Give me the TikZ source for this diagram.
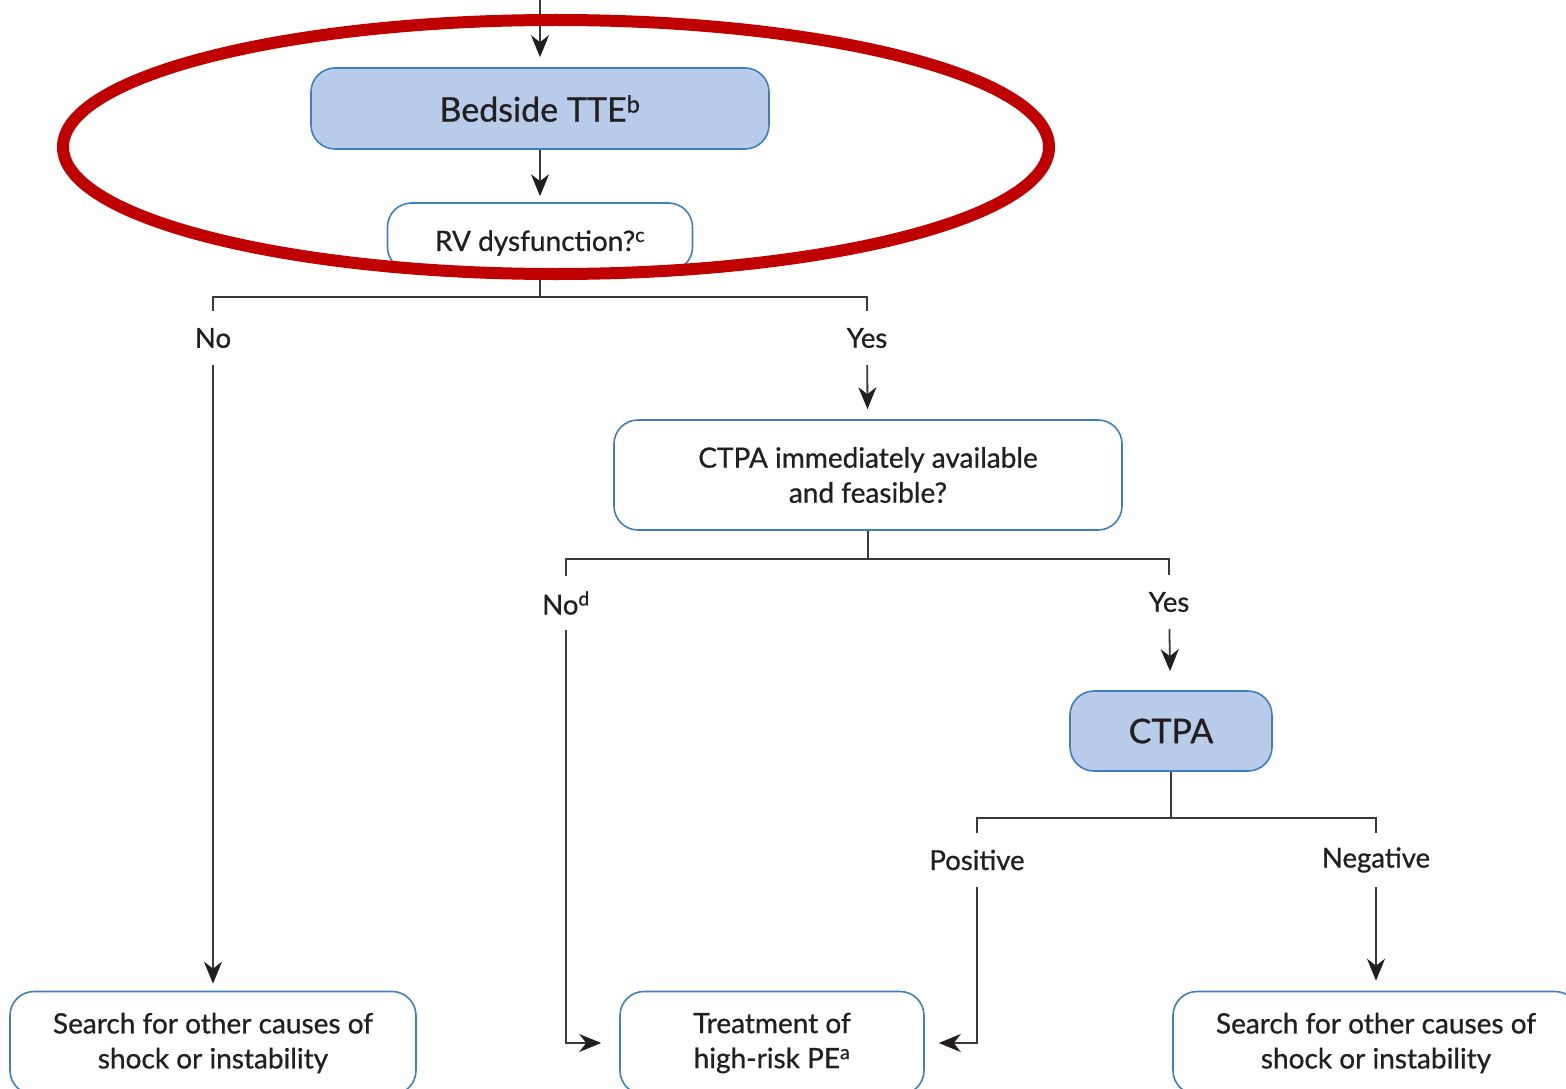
\documentclass[tikz,border=0pt]{standalone}
\usepackage{fontspec}
\setmainfont{Lato}[RawFeature={embolden=0.7}]
\usetikzlibrary{arrows.meta,calc}
\definecolor{boxblue}{HTML}{B8CCE9}
\definecolor{edgeblue}{HTML}{3F7FC1}
\definecolor{ink}{HTML}{231F20}
\definecolor{wire}{HTML}{3A3A3A}
\definecolor{ringred}{HTML}{C00000}
\newcommand\supmark[1]{\textsuperscript{#1}}
\begin{document}
\begin{tikzpicture}[x=1pt,y=-1pt,
  flow/.style={draw=edgeblue, line width=1.6pt, rounded corners=24pt, align=center,
               text=ink, inner sep=0pt},
  filled/.style={flow, fill=boxblue},
  plain/.style={flow, fill=white},
  lbl/.style={inner sep=0pt, minimum height=54pt, text=ink, font=\fontsize{27.5}{30}\selectfont},
  link/.style={draw=wire, line width=1.8pt},
  arr/.style={link, -{Stealth[length=22pt,width=18pt,inset=7pt,color=ink]}},
  txt/.style={font=\fontsize{28}{35}\selectfont}
]
\useasboundingbox (0,0) rectangle (1566,1089);
\clip (0,0) rectangle (1566,1089);
\fill[white] (0,0) rectangle (1566,1089);

% boxes
\node[filled, minimum width=458pt, minimum height=81pt, font=\fontsize{34}{40}\selectfont]
  (tte) at (540,108.5) {Bedside TTE\supmark{b}};
\node[plain, minimum width=305pt, minimum height=68pt, txt]
  (rv) at (540,237) {\raisebox{-6pt}[\height][\depth]{RV dysfunction?\supmark{c}}};
\node[plain, minimum width=508pt, minimum height=110pt, txt]
  (ctpaq) at (868,475) {CTPA immediately available\\and feasible?};
\node[filled, minimum width=202pt, minimum height=80pt, font=\fontsize{34}{40}\selectfont]
  (ctpa) at (1171,731) {CTPA};
\node[plain, minimum width=406pt, minimum height=103pt, txt]
  (search1) at (213,1043) {Search for other causes of\\shock or instability};
\node[plain, minimum width=304pt, minimum height=103pt, txt]
  (treat) at (772,1043) {Treatment of\\high-risk PE\supmark{a}};
\node[plain, minimum width=406pt, minimum height=103pt, txt]
  (search2) at (1376,1043) {Search for other causes of\\shock or instability};

% branch labels
\node[lbl] (no1) at (213,338) {No};
\node[lbl] (yes1) at (867,338) {Yes};
\node[lbl] (no2) at (566,603) {No\supmark{d}};
\node[lbl] (yes2) at (1169,602) {Yes};
\node[lbl] (pos) at (977,860) {Positive};
\node[lbl] (neg) at (1376,860) {Negative};

% connectors
\coordinate (topin) at (540,-2);
\draw[arr, shorten >=10pt] (topin) -- (tte);
\draw[arr, shorten >=6pt] (tte) -- (rv);
\draw[link] (rv.south) -- ++(0,25) coordinate (bus1);
\draw[link] (no1.north) -- (no1.north |- bus1) -- (yes1.north |- bus1) -- (yes1.north);
\draw[arr, shorten >=7pt] (no1) -- (search1);
\draw[arr, shorten >=10pt] (yes1) -- (ctpaq);
\draw[link] (ctpaq.south) -- ++(0,28) coordinate (bus2);
\draw[link] (no2.north) -- (no2.north |- bus2) -- (yes2.north |- bus2) -- (yes2.north);
\draw[arr, shorten >=18pt] (no2.south) |- (treat.west);
\draw[arr, shorten >=19pt] (yes2) -- (ctpa);
\draw[link] (ctpa.south) -- ++(0,46) coordinate (bus3);
\draw[link] (pos.north) -- (pos.north |- bus3) -- (neg.north |- bus3) -- (neg.north);
\draw[arr, shorten >=14pt] (pos.south) |- (treat.east);
\draw[arr, shorten >=10pt] (neg) -- (search2);

% highlight ring
\draw[ringred, line width=12pt] (556,147) ellipse [x radius=493, y radius=127];
\end{tikzpicture}
\end{document}
